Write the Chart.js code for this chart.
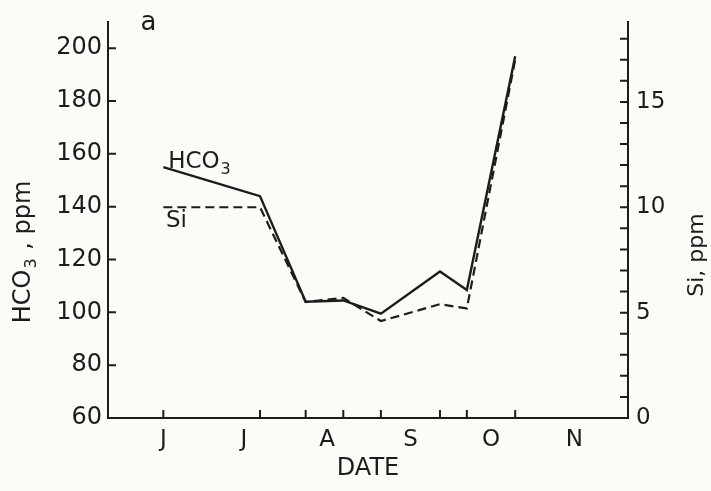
<!DOCTYPE html>
<html>
<head>
<meta charset="utf-8">
<script src="https://cdn.jsdelivr.net/npm/chart.js@4.4.1/dist/chart.umd.min.js"></script>
<style>
  html, body { margin: 0; padding: 0; background: #fbfbf8; }
  #wrap { width: 711px; height: 491px; }
</style>
</head>
<body>
<div id="wrap"><canvas id="chart"></canvas></div>
<script>
// sample dates, in days counted from 1 June
const sampleDay = [15, 51, 68, 82, 96, 118, 128, 146];
const hco3 = [155, 144, 104, 104.5, 99.5, 115.5, 108.5, 197];
const si = [10.0, 10.0, 5.5, 5.7, 4.6, 5.4, 5.2, 17.0];

const monthLabels = ["J", "J", "A", "S", "O", "N"];
const monthCenter = [15, 45, 76, 107, 137, 168];
const leftTicks = [60, 80, 100, 120, 140, 160, 180, 200];
const rightTicks = [0, 5, 10, 15];

const ink = "#1c1c1c";
const font = "'DejaVu Sans', sans-serif";

const extras = {
    id: "extras",
    afterDraw(chart) {
        const ctx = chart.ctx;
        const area = chart.chartArea;
        const xs = chart.scales.x, yl = chart.scales.y, yr = chart.scales.y2;
        ctx.save();
        ctx.strokeStyle = ink;
        ctx.lineWidth = 2;
        ctx.beginPath();
        leftTicks.forEach(v => {
            const y = yl.getPixelForValue(v);
            ctx.moveTo(area.left, y);
            ctx.lineTo(area.left + 8, y);
        });
        for (let v = 1; v <= 18; v++) {
            const y = yr.getPixelForValue(v);
            ctx.moveTo(area.right - 8, y);
            ctx.lineTo(area.right, y);
        }
        sampleDay.forEach(d => {
            const x = xs.getPixelForValue(d);
            ctx.moveTo(x, area.bottom);
            ctx.lineTo(x, area.bottom - 8);
        });
        ctx.stroke();

        ctx.fillStyle = ink;
        ctx.textBaseline = "alphabetic";
        ctx.textAlign = "left";
        // panel letter
        ctx.font = "26px " + font;
        ctx.fillText("a", xs.getPixelForValue(6.5), area.top + 8);
        // series labels
        let x0 = xs.getPixelForValue(16.8), y0 = yl.getPixelForValue(154.5);
        ctx.font = "23px " + font;
        ctx.fillText("HCO", x0, y0);
        let w = ctx.measureText("HCO").width;
        ctx.font = "16px " + font;
        ctx.fillText("3", x0 + w + 1, y0 + 6);
        ctx.font = "23px " + font;
        ctx.fillText("Si", xs.getPixelForValue(16), yl.getPixelForValue(132.5));

        // left axis title, rotated
        ctx.save();
        ctx.translate(24, 252);
        ctx.rotate(-Math.PI / 2);
        const big = "24px " + font, small = "16px " + font;
        ctx.font = big;
        const w1 = ctx.measureText("HCO").width;
        const w3 = ctx.measureText(" , ppm").width;
        ctx.font = small;
        const w2 = ctx.measureText("3").width;
        let sx = -(w1 + w2 + 2 + w3) / 2;
        ctx.textBaseline = "middle";
        ctx.font = big;
        ctx.fillText("HCO", sx, 0);
        ctx.font = small;
        ctx.fillText("3", sx + w1 + 1, 8);
        ctx.font = big;
        ctx.fillText(" , ppm", sx + w1 + w2 + 2, 0);
        ctx.restore();

        // right axis title, rotated the same way
        ctx.save();
        ctx.translate(697, 255);
        ctx.rotate(-Math.PI / 2);
        ctx.font = "22px " + font;
        ctx.textAlign = "center";
        ctx.textBaseline = "middle";
        ctx.fillText("Si, ppm", 0, 0);
        ctx.restore();
        ctx.restore();
    }
};

new Chart(document.getElementById("chart"), {
    type: "line",
    data: {
        datasets: [
            {
                label: "HCO3",
                data: sampleDay.map((d, i) => ({ x: d, y: hco3[i] })),
                borderColor: ink,
                borderWidth: 2.4,
                pointRadius: 0,
                tension: 0,
                yAxisID: "y"
            }, {
                label: "Si",
                data: sampleDay.map((d, i) => ({ x: d, y: si[i] })),
                borderColor: ink,
                borderWidth: 2.2,
                borderDash: [9, 5],
                pointRadius: 0,
                tension: 0,
                yAxisID: "y2"
            }
        ]
    },
    options: {
        responsive: true,
        maintainAspectRatio: false,
        animation: false,
        layout: { padding: { top: 16, left: 0, right: 0, bottom: 0 } },
        plugins: {
            legend: { display: false },
            tooltip: { enabled: false }
        },
        scales: {
            x: {
                type: "linear",
                min: -5.6,
                max: 188,
                grid: { display: false, drawTicks: false },
                border: { display: true, color: ink, width: 2 },
                afterBuildTicks: s => { s.ticks = monthCenter.map(v => ({ value: v })); },
                afterFit: s => { s.height = 73; },
                ticks: {
                    color: ink,
                    padding: 8,
                    maxRotation: 0,
                    autoSkip: false,
                    font: { family: font, size: 23 },
                    callback: (v, i) => monthLabels[i]
                },
                title: {
                    display: true,
                    text: "DATE",
                    color: ink,
                    font: { family: font, size: 24 },
                    padding: { top: 6, bottom: 8 }
                }
            },
            y: {
                position: "left",
                min: 60,
                max: 210,
                grid: { display: false, drawTicks: false },
                border: { display: true, color: ink, width: 2 },
                afterBuildTicks: s => { s.ticks = leftTicks.map(v => ({ value: v })); },
                afterFit: s => { s.width = 108; },
                ticks: {
                    color: ink,
                    padding: 6,
                    font: { family: font, size: 24 }
                }
            },
            y2: {
                position: "right",
                min: 0,
                max: 18.8,
                grid: { display: false, drawTicks: false },
                border: { display: true, color: ink, width: 2 },
                afterBuildTicks: s => { s.ticks = rightTicks.map(v => ({ value: v })); },
                afterFit: s => { s.width = 83; },
                ticks: {
                    color: ink,
                    padding: 8,
                    font: { family: font, size: 23 }
                }
            }
        }
    },
    plugins: [extras]
});
</script>
</body>
</html>
